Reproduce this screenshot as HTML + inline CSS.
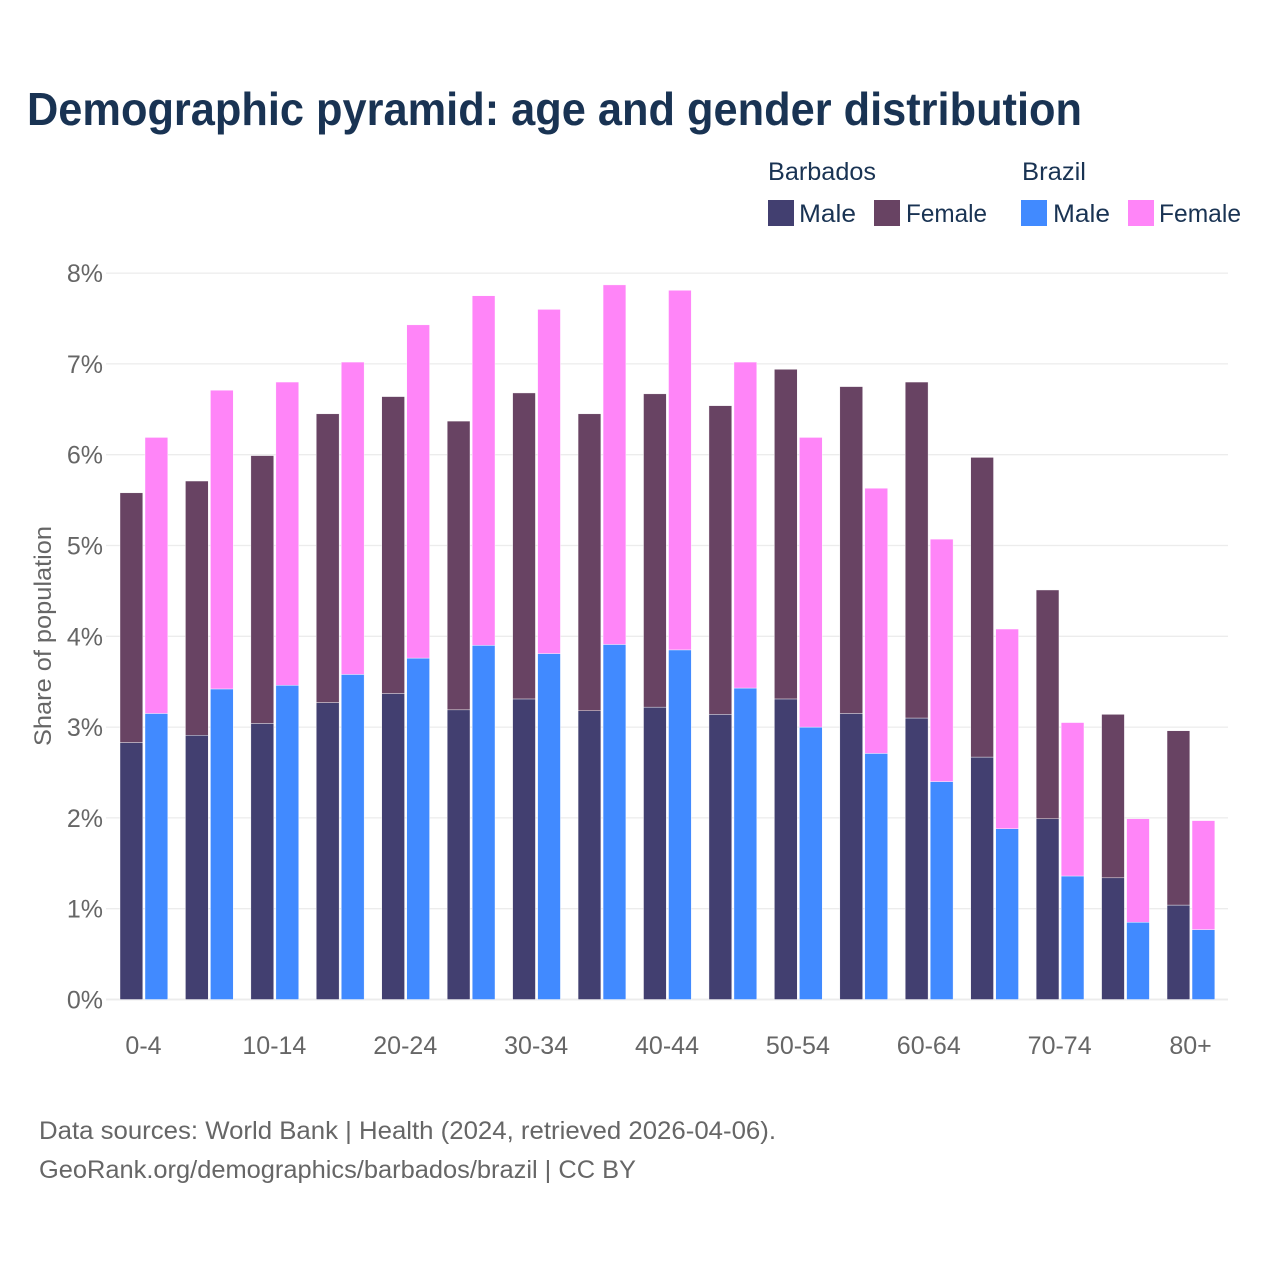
<!DOCTYPE html>
<html lang="en">
<head>
<meta charset="utf-8">
<title>Demographic pyramid: age and gender distribution</title>
<style>
  html, body { margin: 0; padding: 0; background: #fff; }
  #chart { display: block; width: 1280px; height: 1280px; font-family: "Liberation Sans", sans-serif; }
</style>
</head>
<body>
<svg id="chart" xmlns="http://www.w3.org/2000/svg" width="1280" height="1280" viewBox="0 0 1280 1280">
  <rect x="0" y="0" width="1280" height="1280" fill="#ffffff"/>
  <text x="27" y="125" font-size="46" font-weight="700" fill="#193353" textLength="1055" lengthAdjust="spacingAndGlyphs">Demographic pyramid: age and gender distribution</text>

  <g font-size="25" fill="#193353">
    <text x="768" y="180" textLength="108" lengthAdjust="spacingAndGlyphs">Barbados</text>
    <text x="1022" y="180" textLength="64" lengthAdjust="spacingAndGlyphs">Brazil</text>
    <rect x="768" y="200" width="26" height="26" fill="#423f70"/>
    <text x="799" y="222" textLength="57" lengthAdjust="spacingAndGlyphs">Male</text>
    <rect x="874" y="200" width="26" height="26" fill="#684363"/>
    <text x="906" y="222" textLength="81" lengthAdjust="spacingAndGlyphs">Female</text>
    <rect x="1021" y="200" width="26" height="26" fill="#418aff"/>
    <text x="1053" y="222" textLength="57" lengthAdjust="spacingAndGlyphs">Male</text>
    <rect x="1128" y="200" width="26" height="26" fill="#ff85f8"/>
    <text x="1159" y="222" textLength="82" lengthAdjust="spacingAndGlyphs">Female</text>
  </g>

  <g id="grid"></g>
  <g id="bars"></g>
  <g id="y-ticks"></g>
  <g id="x-ticks"></g>

  <text transform="translate(51 636) rotate(-90)" text-anchor="middle" font-size="24" fill="#666666" textLength="220" lengthAdjust="spacingAndGlyphs">Share of population</text>

  <text x="39" y="1139" font-size="25" fill="#666666" textLength="737" lengthAdjust="spacingAndGlyphs">Data sources: World Bank | Health (2024, retrieved 2026-04-06).</text>
  <text x="39" y="1178" font-size="25" fill="#666666" textLength="597" lengthAdjust="spacingAndGlyphs">GeoRank.org/demographics/barbados/brazil | CC BY</text>
</svg>

<script>
var categories = ["0-4","5-9","10-14","15-19","20-24","25-29","30-34","35-39","40-44","45-49","50-54","55-59","60-64","65-69","70-74","75-79","80+"];
var xTickLabels = ["0-4","10-14","20-24","30-34","40-44","50-54","60-64","70-74","80+"];
var yTickValues = [0,1,2,3,4,5,6,7,8];
var barbadosMale = [2.83,2.91,3.04,3.27,3.37,3.19,3.31,3.18,3.22,3.14,3.31,3.15,3.10,2.67,1.99,1.34,1.04];
var barbadosFemale = [2.75,2.80,2.95,3.18,3.27,3.18,3.37,3.27,3.45,3.40,3.63,3.60,3.70,3.30,2.52,1.80,1.92];
var brazilMale = [3.15,3.42,3.46,3.58,3.76,3.90,3.81,3.91,3.85,3.43,3.00,2.71,2.40,1.88,1.36,0.85,0.77];
var brazilFemale = [3.04,3.29,3.34,3.44,3.67,3.85,3.79,3.96,3.96,3.59,3.19,2.92,2.67,2.20,1.69,1.14,1.20];

var NS = "http://www.w3.org/2000/svg";
var BAR_W = 22.8;
var BAR_GAP = 25;

function yScale(v) { return 999.5 - v * 90.8; }
function xScale(i) { return 120 + i * 65.44; }

function makeRect(parent, x, y, w, h, fill) {
  var r = document.createElementNS(NS, "rect");
  r.setAttribute("x", x);
  r.setAttribute("y", y);
  r.setAttribute("width", w);
  r.setAttribute("height", Math.max(0, h));
  r.setAttribute("fill", fill);
  r.setAttribute("stroke", "#ffffff");
  r.setAttribute("stroke-width", "0.4");
  parent.appendChild(r);
  return r;
}

var gridLayer = document.getElementById("grid");
var yTickLayer = document.getElementById("y-ticks");
yTickValues.forEach(function (v) {
  var line = document.createElementNS(NS, "line");
  line.setAttribute("x1", 106);
  line.setAttribute("x2", 1228);
  line.setAttribute("y1", yScale(v));
  line.setAttribute("y2", yScale(v));
  line.setAttribute("stroke", "#ececec");
  line.setAttribute("stroke-width", v === 0 ? 2 : 1.3);
  
  
  gridLayer.appendChild(line);

  var t = document.createElementNS(NS, "text");
  t.setAttribute("x", 103);
  t.setAttribute("y", yScale(v) + 9);
  t.setAttribute("text-anchor", "end");
  t.setAttribute("font-size", "25");
  t.setAttribute("fill", "#666666");
  t.textContent = v + "%";
  
  
  yTickLayer.appendChild(t);
});

var barLayer = document.getElementById("bars");
categories.forEach(function (cat, i) {
  var x0 = xScale(i);
  var x1 = x0 + BAR_GAP;
  var bm = barbadosMale[i], bf = barbadosFemale[i], zm = brazilMale[i], zf = brazilFemale[i];

  var r1 = makeRect(barLayer, x0, yScale(bm), BAR_W, yScale(0) - yScale(bm), "#423f70");
  
  

  var r2 = makeRect(barLayer, x0, yScale(bm + bf), BAR_W, yScale(bm) - yScale(bm + bf), "#684363");
  
  

  var r3 = makeRect(barLayer, x1, yScale(zm), BAR_W, yScale(0) - yScale(zm), "#418aff");
  
  

  var r4 = makeRect(barLayer, x1, yScale(zm + zf), BAR_W, yScale(zm) - yScale(zm + zf), "#ff85f8");
  
  
});

var xTickLayer = document.getElementById("x-ticks");
xTickLabels.forEach(function (label) {
  var idx = categories.indexOf(label);
  var t = document.createElementNS(NS, "text");
  t.setAttribute("x", xScale(idx) + 23.5);
  t.setAttribute("y", 1054);
  t.setAttribute("text-anchor", "middle");
  t.setAttribute("font-size", "25");
  t.setAttribute("fill", "#666666");
  t.textContent = label;
  
  
  xTickLayer.appendChild(t);
});
</script>
</body>
</html>
